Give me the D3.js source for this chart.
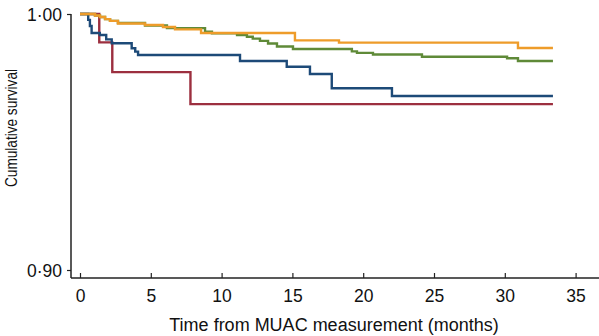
<!DOCTYPE html>
<html>
<head>
<meta charset="utf-8">
<script src="https://cdn.jsdelivr.net/npm/d3@7"></script>
<style>
  html, body { margin: 0; padding: 0; background: #fff; }
  svg { display: block; font-family: "Liberation Sans", Arial, Helvetica, sans-serif; }
</style>
</head>
<body>
<svg id="chart" width="599" height="336"></svg>
<script>
// ---- Data ----
const xTicks = [0, 5, 10, 15, 20, 25, 30, 35];
const yTicks = [0.90, 1.00];
const xTitle = "Time from MUAC measurement (months)";
const yTitle = "Cumulative survival";

const redTime = [0, 1.36, 2.28, 7.8, 33.4];
const redSurv = [1, 0.9889, 0.9773, 0.9648, 0.9648];

const blueTime = [0, 0.58, 0.7, 0.82, 1.4, 1.85, 2.24, 3.65, 3.9, 4.1, 11.3, 14.6, 16.24, 17.78, 22.03, 33.4];
const blueSurv = [1, 0.9977, 0.9953, 0.9926, 0.9918, 0.9901, 0.98855, 0.9866, 0.9853, 0.984, 0.98164, 0.97941, 0.97656, 0.97098, 0.96797, 0.96797];

const greenTime = [0, 1.06, 1.41, 1.77, 2.12, 2.68, 4.59, 6.14, 8.83, 9.32, 11.09, 11.79, 12.2, 12.71, 13.28, 13.91, 15.04, 19.2, 19.56, 20.69, 24.15, 30.16, 30.93, 33.4];
const greenSurv = [1, 0.9994, 0.9988, 0.998, 0.9973, 0.9965, 0.9955, 0.9945, 0.9931, 0.9925, 0.9918, 0.9911, 0.9904, 0.9895, 0.9885, 0.9873, 0.9863, 0.9854, 0.9848, 0.9842, 0.9833, 0.9827, 0.98164, 0.98164];

const orangeTime = [0, 1.06, 1.41, 1.77, 2.12, 2.68, 4.59, 5.86, 6.71, 8.55, 15.18, 18.29, 30.93, 33.4];
const orangeSurv = [1, 0.9994, 0.9988, 0.998, 0.9973, 0.9963, 0.9957, 0.9949, 0.994, 0.9926, 0.9897, 0.9888, 0.9867, 0.9867];

const seriesNames = ["red", "blue", "green", "orange"];
const seriesColors = ["#9c2f3f", "#1d4a78", "#5f8a38", "#ee9c2a"];

// ---- Build ----
const series = [
  { name: seriesNames[0], t: redTime, s: redSurv, color: seriesColors[0] },
  { name: seriesNames[1], t: blueTime, s: blueSurv, color: seriesColors[1] },
  { name: seriesNames[2], t: greenTime, s: greenSurv, color: seriesColors[2] },
  { name: seriesNames[3], t: orangeTime, s: orangeSurv, color: seriesColors[3] }
];

const svg = d3.select("#chart");
const x = d3.scaleLinear().domain([0, 35]).range([80, 575.6]);
const y = d3.scaleLinear().domain([0.90, 1.00]).range([270, 14]);

const axisX0 = 71, axisX1 = 599, axisY0 = 14, axisY1 = 278;
const axisColor = "#222";
const FONT = "Liberation Sans, Arial, sans-serif";

// curves
const line = d3.line().x(d => x(d[0])).y(d => y(d[1])).curve(d3.curveStepAfter);
svg.append("g").selectAll("path").data(series).join("path")
  .attr("d", d => line(d.t.map((t, i) => [t, d.s[i]])))
  .attr("fill", "none")
  .attr("stroke", d => d.color)
  .attr("stroke-width", 2.4)
  .attr("stroke-linejoin", "miter");

// axes lines
svg.append("line").attr("x1", axisX0).attr("x2", axisX0).attr("y1", axisY0).attr("y2", axisY1)
  .attr("stroke", axisColor).attr("stroke-width", 1.5);
svg.append("line").attr("x1", axisX0).attr("x2", axisX1).attr("y1", axisY1).attr("y2", axisY1)
  .attr("stroke", axisColor).attr("stroke-width", 1.5);

// x axis ticks (inward)
const xAxis = d3.axisBottom(x).tickValues(xTicks).tickSize(-5).tickPadding(0).tickFormat(d3.format("d"));
const gx = svg.append("g").attr("transform", `translate(0,${axisY1})`).call(xAxis);
gx.attr("font-size", null).attr("font-family", null);
gx.select(".domain").remove();
gx.selectAll(".tick line").attr("stroke", axisColor).attr("stroke-width", 1.2);
gx.selectAll(".tick text").attr("y", 24).attr("dy", 0)
  .style("font-size", "17.5px").style("font-family", FONT).attr("fill", "#111");

// y axis ticks (outward)
const yAxis = d3.axisLeft(y).tickValues(yTicks).tickSize(4).tickPadding(0)
  .tickFormat(d => d3.format(".2f")(d).replace(".", "\u00B7"));
const gy = svg.append("g").attr("transform", `translate(${axisX0},0)`).call(yAxis);
gy.attr("font-size", null).attr("font-family", null);
gy.select(".domain").remove();
gy.selectAll(".tick line").attr("stroke", axisColor).attr("stroke-width", 1.2);
gy.selectAll(".tick text").attr("x", -9).attr("dy", "0.36em")
  .style("font-size", "17.5px").style("font-family", FONT).attr("fill", "#111");

// titles
svg.append("text").attr("x", 334).attr("y", 331).attr("text-anchor", "middle")
  .style("font-size", "18px").style("font-family", FONT).attr("fill", "#111").text(xTitle);
svg.append("text").attr("transform", "translate(16.5,128) rotate(-90)").attr("text-anchor", "middle")
  .attr("textLength", 118).attr("lengthAdjust", "spacingAndGlyphs")
  .style("font-size", "16px").style("font-family", FONT).attr("fill", "#111").text(yTitle);
</script>
</body>
</html>
